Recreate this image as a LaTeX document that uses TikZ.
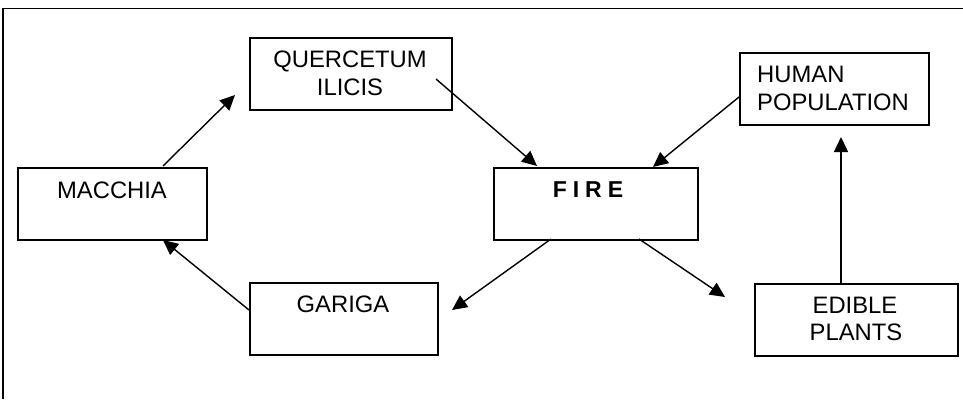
\documentclass[tikz,border=0pt]{standalone}
\usepackage{fontspec}
\setmainfont{Liberation Sans}
\usetikzlibrary{arrows.meta}
\begin{document}
\begin{tikzpicture}[x=1pt,y=-1pt,
  box/.style={draw,line width=1.6pt,rectangle,inner sep=0pt,anchor=north west},
  lbl/.style={anchor=base,inner sep=0pt,font=\fontsize{23.8}{28}\selectfont},
  arr/.style={line width=1.4pt,-{Triangle[length=15pt,width=14pt]}}]
\useasboundingbox (0,0) rectangle (963,399);
% frame (left and top edges)
\draw[line width=1.6pt] (3,399) -- (3,8.5) -- (963,8.5);
% boxes
\node[box,minimum width=202pt,minimum height=72pt] (que) at (249,37) {};
\node[box,minimum width=189pt,minimum height=72pt] (mac) at (17,167) {};
\node[box,minimum width=188pt,minimum height=72pt] (gar) at (249,282) {};
\node[box,minimum width=204pt,minimum height=72pt] (fire) at (493,167) {};
\node[box,minimum width=189pt,minimum height=72pt] (hum) at (739,52) {};
\node[box,minimum width=203pt,minimum height=72pt] (edi) at (754,283) {};
% labels
\node[lbl] (queA) at (350,67) {QUERCETUM};
\node[lbl] (queB) at (350,95) {ILICIS};
\node[lbl] (macA) at (112,198) {MACCHIA};
\node[lbl] (garA) at (343,312) {GARIGA};
\node[lbl,font=\fontsize{23}{28}\selectfont\bfseries] (fireA) at (588,197) {F\hspace{6pt}I\hspace{6pt}R\hspace{6pt}E};
\node[lbl,anchor=base west] (humA) at (757,82) {HUMAN};
\node[lbl,anchor=base west] (humB) at (757,110) {POPULATION};
\node[lbl] (ediA) at (855,313) {EDIBLE};
\node[lbl] (ediB) at (856,340) {PLANTS};
% connector ends
\coordinate (mqs) at (163,166);  \coordinate (mqe) at (235,95);
\coordinate (qfs) at (436,79);   \coordinate (qfe) at (537,166);
\coordinate (hfs) at (739,97);   \coordinate (hfe) at (653,167);
\coordinate (fgs) at (551,239);  \coordinate (fge) at (452,310);
\coordinate (fes) at (639,239);  \coordinate (fee) at (725,297);
\coordinate (ehs) at (841,283);  \coordinate (ehe) at (841,137);
\coordinate (gms) at (249,310);  \coordinate (gme) at (163,240);
\draw[arr] (mqs) -- (mqe);
\draw[arr] (qfs) -- (qfe);
\draw[arr] (hfs) -- (hfe);
\draw[arr] (fgs) -- (fge);
\draw[arr] (fes) -- (fee);
\draw[arr] (ehs) -- (ehe);
\draw[arr] (gms) -- (gme);
\end{tikzpicture}
\end{document}
